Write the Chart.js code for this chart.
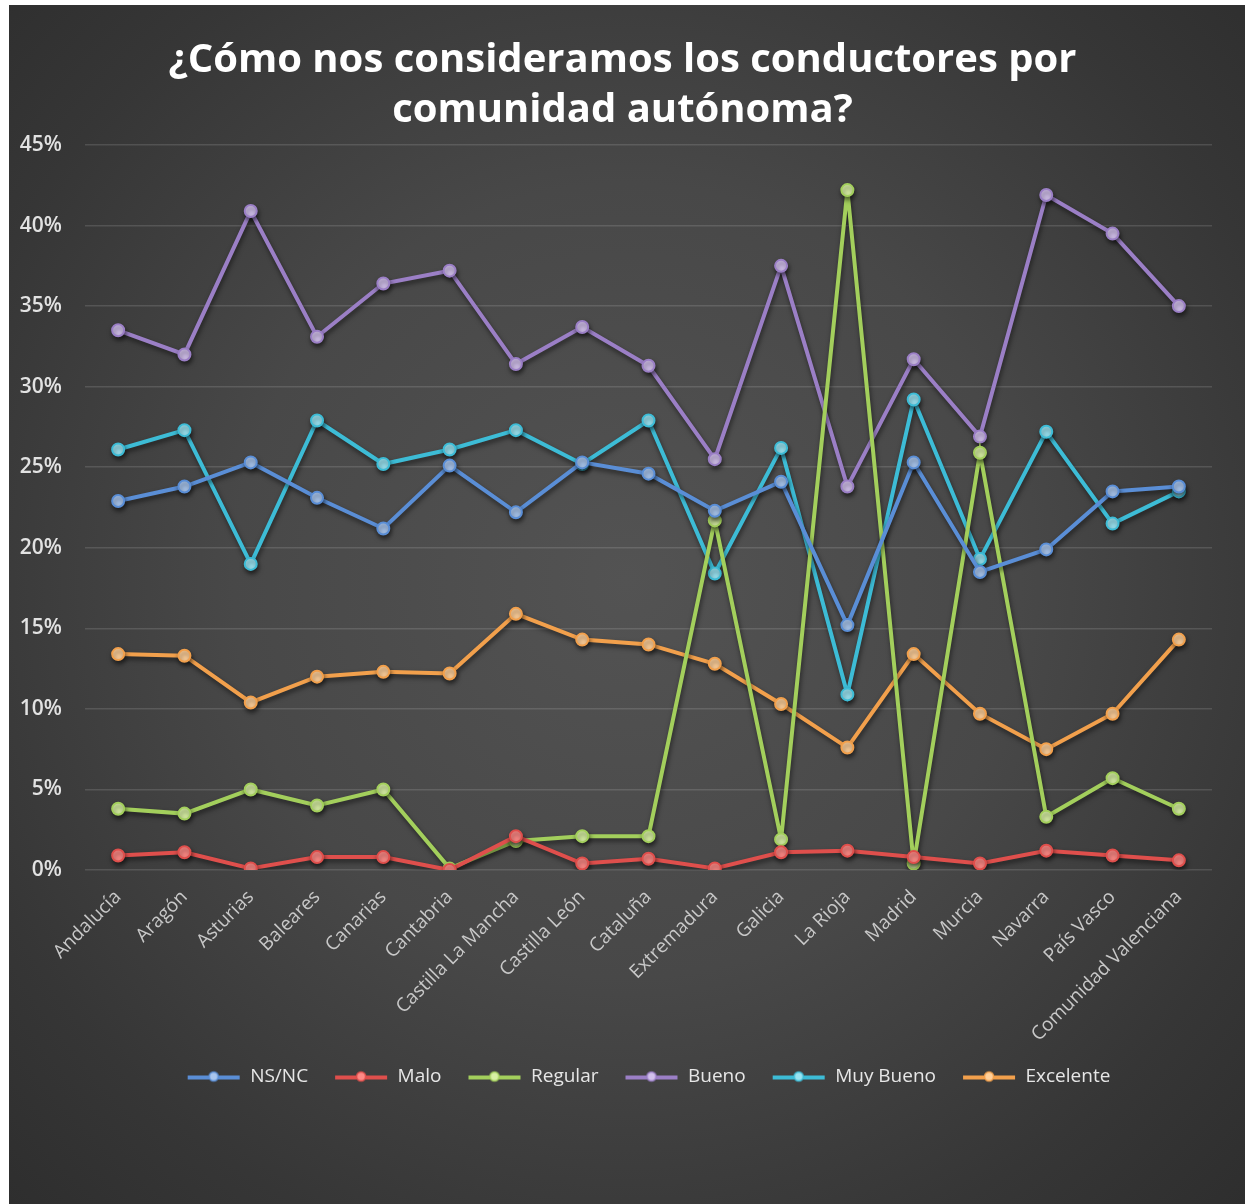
<!DOCTYPE html>
<html lang="es">
<head>
  <meta charset="UTF-8">
  <title>¿Cómo nos consideramos los conductores por comunidad autónoma?</title>
  <script src="https://cdn.jsdelivr.net/npm/chart.js"></script>
  <style>
    html, body {
      margin: 0;
      padding: 0;
      background: #ffffff;
    }
    #wrap {
      position: absolute;
      left: 9px;
      top: 5px;
      width: 1236px;
      height: 1199px;
      background: radial-gradient(ellipse at 50% 48%, #535353 0%, #484848 45%, #363636 80%, #2e2e2e 100%);
    }
    canvas {
      display: block;
    }
  </style>
</head>
<body>
  <div id="wrap">
    <canvas id="myChart" width="1236" height="1199"></canvas>
  </div>

  <script>
    var comunidades = ['Andalucía', 'Aragón', 'Asturias', 'Baleares', 'Canarias', 'Cantabria',
      'Castilla La Mancha', 'Castilla León', 'Cataluña', 'Extremadura', 'Galicia', 'La Rioja',
      'Madrid', 'Murcia', 'Navarra', 'País Vasco', 'Comunidad Valenciana'];

    var nsnc      = [22.9, 23.8, 25.3, 23.1, 21.2, 25.1, 22.2, 25.3, 24.6, 22.3, 24.1, 15.2, 25.3, 18.5, 19.9, 23.5, 23.8];
    var malo      = [0.9, 1.1, 0.1, 0.8, 0.8, 0.0, 2.1, 0.4, 0.7, 0.1, 1.1, 1.2, 0.8, 0.4, 1.2, 0.9, 0.6];
    var regular   = [3.8, 3.5, 5.0, 4.0, 5.0, 0.1, 1.8, 2.1, 2.1, 21.7, 1.9, 42.2, 0.4, 25.9, 3.3, 5.7, 3.8];
    var bueno     = [33.5, 32.0, 40.9, 33.1, 36.4, 37.2, 31.4, 33.7, 31.3, 25.5, 37.5, 23.8, 31.7, 26.9, 41.9, 39.5, 35.0];
    var muyBueno  = [26.1, 27.3, 19.0, 27.9, 25.2, 26.1, 27.3, 25.2, 27.9, 18.4, 26.2, 10.9, 29.2, 19.3, 27.2, 21.5, 23.5];
    var excelente = [13.4, 13.3, 10.4, 12.0, 12.3, 12.2, 15.9, 14.3, 14.0, 12.8, 10.3, 7.6, 13.4, 9.7, 7.5, 9.7, 14.3];

    var yTicks = [0, 5, 10, 15, 20, 25, 30, 35, 40, 45];

    // legend marker: short line with a dot in the middle
    function marcador(color, claro) {
      var c = document.createElement('canvas');
      c.width = 54;
      c.height = 14;
      var g = c.getContext('2d');
      g.strokeStyle = color;
      g.lineWidth = 4;
      g.beginPath();
      g.moveTo(1, 8);
      g.lineTo(53, 8);
      g.stroke();
      g.fillStyle = claro;
      g.strokeStyle = color;
      g.lineWidth = 1.5;
      g.beginPath();
      g.arc(27, 7, 4.5, 0, Math.PI * 2);
      g.fill();
      g.stroke();
      return c;
    }

    function serie(label, data, color, claro) {
      return {
        label: label,
        data: data,
        borderColor: color,
        backgroundColor: color,
        borderWidth: 4,
        pointRadius: 6,
        pointHoverRadius: 6,
        pointBackgroundColor: claro,
        pointBorderColor: color,
        pointBorderWidth: 2,
        tension: 0,
        marker: marcador(color, claro)
      };
    }

    var sombra = {
      id: 'sombra',
      beforeDatasetDraw: function (chart) {
        var ctx = chart.ctx;
        ctx.save();
        ctx.shadowColor = 'rgba(0,0,0,0.55)';
        ctx.shadowBlur = 5;
        ctx.shadowOffsetX = 1;
        ctx.shadowOffsetY = 3;
      },
      afterDatasetDraw: function (chart) {
        chart.ctx.restore();
      }
    };

    // title and legend sit a little right of centre in the original
    var correr = {
      id: 'correr',
      beforeDraw: function (chart) {
        if (chart._corrido) return;
        chart.titleBlock.left += 12;
        chart.titleBlock.right += 12;
        chart.legend.left += 38;
        chart.legend.right += 38;
        chart._corrido = true;
      }
    };

    var ctx = document.getElementById('myChart').getContext('2d');
    var myChart = new Chart(ctx, {
      type: 'line',
      data: {
        labels: comunidades,
        datasets: [
          serie('NS/NC', nsnc, '#5a8ed6', '#a9c6ee'),
          serie('Malo', malo, '#df4f4c', '#ff8a86'),
          serie('Regular', regular, '#a3cf5c', '#d8f0a4'),
          serie('Bueno', bueno, '#9b7fc6', '#d2c0ec'),
          serie('Muy Bueno', muyBueno, '#3dbcd6', '#9ae4f2'),
          serie('Excelente', excelente, '#f2a04c', '#ffd09a')
        ]
      },
      plugins: [sombra, correr],
      options: {
        responsive: false,
        animation: false,
        layout: {
          padding: { left: 0, right: 33, top: 0, bottom: 108 }
        },
        plugins: {
          title: {
            display: true,
            text: ['¿Cómo nos consideramos los conductores por', 'comunidad autónoma?'],
            color: '#ffffff',
            font: { family: 'Open Sans', size: 40, weight: 'bold', lineHeight: 1.25 },
            padding: { top: 31, bottom: 9 }
          },
          legend: {
            position: 'bottom',
            labels: {
              color: '#e6e6e6',
              font: { family: 'Open Sans', size: 19 },
              usePointStyle: true,
              pointStyleWidth: 54,
              padding: 26,
              generateLabels: function (chart) {
                return chart.data.datasets.map(function (ds, i) {
                  return {
                    text: ds.label,
                    fillStyle: ds.borderColor,
                    strokeStyle: ds.borderColor,
                    pointStyle: ds.marker,
                    fontColor: '#e6e6e6',
                    datasetIndex: i,
                    hidden: false
                  };
                });
              }
            }
          },
          tooltip: { enabled: false }
        },
        scales: {
          x: {
            offset: true,
            grid: { display: false },
            border: { display: false },
            ticks: {
              color: '#c8c8c8',
              font: { family: 'Open Sans', size: 19 },
              minRotation: 45,
              maxRotation: 45,
              autoSkip: false,
              padding: 8
            },
            afterFit: function (s) { s.height = 171; }
          },
          y: {
            min: 0,
            max: 45,
            grid: { color: 'rgba(255,255,255,0.13)', lineWidth: 1.5, drawTicks: false },
            border: { display: false },
            afterBuildTicks: function (s) {
              s.ticks = yTicks.map(function (v) { return { value: v }; });
            },
            ticks: {
              color: '#e2e2e2',
              font: { family: 'Open Sans', size: 21, weight: '600' },
              padding: 23,
              callback: function (v) { return v + '%'; }
            },
            afterFit: function (s) { s.width = 76; }
          }
        }
      }
    });
  </script>
</body>
</html>
